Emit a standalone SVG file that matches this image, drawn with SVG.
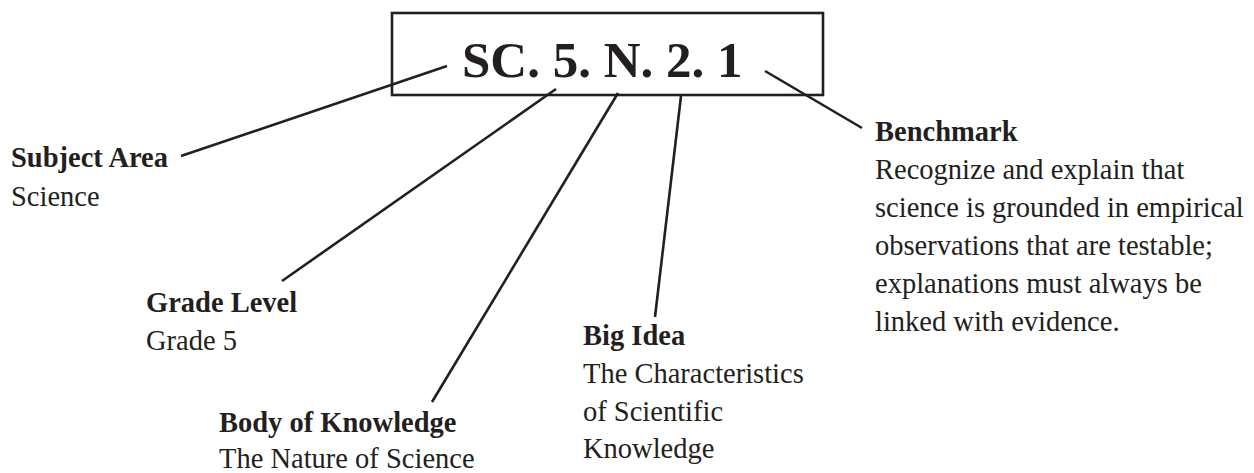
<svg xmlns="http://www.w3.org/2000/svg" width="1254" height="473" viewBox="0 0 1254 473">
<style>
.t{font-family:"Liberation Serif","Times New Roman",serif;fill:#231f20;font-size:28.5px}
.b{font-weight:bold}
.ttl{font-family:"Liberation Serif","Times New Roman",serif;fill:#231f20;font-size:51px;font-weight:bold}
.ln{stroke:#231f20;stroke-width:2.6;fill:none}
</style>
<rect width="1254" height="473" fill="#ffffff"/>
<g id="connectors">
<line class="ln" x1="447" y1="66" x2="181" y2="156"/>
<line class="ln" x1="556" y1="89" x2="282" y2="281"/>
<line class="ln" x1="618" y1="93" x2="432" y2="402"/>
<line class="ln" x1="681" y1="96" x2="655" y2="317"/>
<line class="ln" x1="765" y1="71" x2="862" y2="128"/>
</g>
<g id="code">
<rect class="ln" x="392" y="13" width="431" height="82"/>
<text class="ttl" x="462" y="77">SC. 5. N. 2. 1</text>
</g>
<g id="subject-area">
<text class="t b" x="11" y="167">Subject Area</text>
<text class="t" x="11" y="206">Science</text>
</g>
<g id="grade-level">
<text class="t b" x="146" y="312">Grade Level</text>
<text class="t" x="146" y="350">Grade 5</text>
</g>
<g id="body-of-knowledge">
<text class="t b" x="219" y="432">Body of Knowledge</text>
<text class="t" x="219" y="468">The Nature of Science</text>
</g>
<g id="big-idea">
<text class="t b" x="583" y="345">Big Idea</text>
<text class="t" x="583" y="383">The Characteristics</text>
<text class="t" x="583" y="421">of Scientific</text>
<text class="t" x="583" y="458">Knowledge</text>
</g>
<g id="benchmark">
<text class="t b" x="875" y="141">Benchmark</text>
<text class="t" x="875" y="179">Recognize and explain that</text>
<text class="t" x="875" y="217">science is grounded in empirical</text>
<text class="t" x="875" y="255">observations that are testable;</text>
<text class="t" x="875" y="293">explanations must always be</text>
<text class="t" x="875" y="331">linked with evidence.</text>
</g>
</svg>
